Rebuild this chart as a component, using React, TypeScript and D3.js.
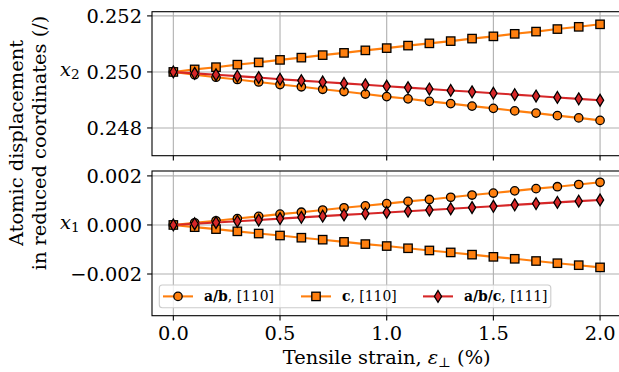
import React from "react";
import * as d3 from "d3";

const strain = [0, 0.1, 0.2, 0.3, 0.4, 0.5, 0.6, 0.7, 0.8, 0.9, 1.0, 1.1, 1.2, 1.3, 1.4, 1.5, 1.6, 1.7, 1.8, 1.9, 2.0];

// Top panel (x2)
const x2_ab110 = [0.25, 0.2499, 0.24981, 0.24973, 0.24964, 0.24955, 0.24947, 0.24938, 0.2493, 0.24921, 0.24912, 0.24904, 0.24895, 0.24887, 0.24878, 0.2487, 0.24861, 0.24853, 0.24844, 0.24836, 0.24827];
const x2_c110 = [0.25, 0.25009, 0.25017, 0.25026, 0.25034, 0.25043, 0.25051, 0.2506, 0.25068, 0.25077, 0.25085, 0.25094, 0.25102, 0.2511, 0.25119, 0.25127, 0.25136, 0.25144, 0.25153, 0.25161, 0.2517];
const x2_abc111 = [0.25, 0.24995, 0.2499, 0.24985, 0.2498, 0.24974, 0.24969, 0.24964, 0.24959, 0.24954, 0.24949, 0.24944, 0.24939, 0.24934, 0.24929, 0.24924, 0.24919, 0.24914, 0.24909, 0.24904, 0.24899];

// Bottom panel (x1)
const x1_ab110 = [0, 0.00009, 0.00017, 0.00026, 0.00035, 0.00044, 0.00052, 0.00061, 0.0007, 0.00078, 0.00087, 0.00096, 0.00104, 0.00113, 0.00122, 0.0013, 0.00139, 0.00148, 0.00156, 0.00165, 0.00174];
const x1_c110 = [0, -0.00009, -0.00017, -0.00026, -0.00035, -0.00043, -0.00052, -0.0006, -0.00069, -0.00078, -0.00086, -0.00095, -0.00104, -0.00112, -0.00121, -0.0013, -0.00138, -0.00147, -0.00156, -0.00164, -0.00173];
const x1_abc111 = [0, 0.00005, 0.0001, 0.00015, 0.0002, 0.00026, 0.00031, 0.00036, 0.00041, 0.00046, 0.00051, 0.00056, 0.00061, 0.00066, 0.00071, 0.00076, 0.00082, 0.00087, 0.00092, 0.00097, 0.00102];

const xTicks = [0, 0.5, 1.0, 1.5, 2.0];
const xTickLabels = ["0.0", "0.5", "1.0", "1.5", "2.0"];
const topTicks = [0.248, 0.25, 0.252];
const topTickLabels = ["0.248", "0.250", "0.252"];
const botTicks = [-0.002, 0, 0.002];
const botTickLabels = ["\u22120.002", "0.000", "0.002"];

const seriesNames = ["a/b", "c", "a/b/c"];
const seriesDirs = [", [110]", ", [110]", ", [111]"];
const seriesMarkers = ["circle", "square", "diamond"];
const seriesColors = ["#ff7f0e", "#ff7f0e", "#d62728"];

const FONT = "DejaVu Serif";
const L = 152, R = 621.4;
const T1 = 11.7, B1 = 155.7, T2 = 171, B2 = 315.7;

function Marker({ type, x, y, color }: { type: string; x: number; y: number; color: string }) {
  if (type === "circle") return <circle cx={x} cy={y} r={4.2} fill={color} stroke="#000" strokeWidth={1.3} />;
  if (type === "square") return <rect x={x - 4.2} y={y - 4.2} width={8.4} height={8.4} fill={color} stroke="#000" strokeWidth={1.3} />;
  const h = 5.9, w = 3.6;
  return <path d={`M${x},${y - h}L${x + w},${y}L${x},${y + h}L${x - w},${y}Z`} fill={color} stroke="#000" strokeWidth={1.3} />;
}

export default function App() {
  const x = d3.scaleLinear().domain([-0.1, 2.1]).range([L, R]);
  const yTop = d3.scaleLinear().domain([0.24701, 0.25215]).range([B1, T1]);
  const yBot = d3.scaleLinear().domain([-0.0037, 0.0022]).range([B2, T2]);

  const panels = [
    { y: yTop, top: T1, bottom: B1, ticks: topTicks, labels: topTickLabels, data: [x2_ab110, x2_c110, x2_abc111], sub: "2", clip: "c1" },
    { y: yBot, top: T2, bottom: B2, ticks: botTicks, labels: botTickLabels, data: [x1_ab110, x1_c110, x1_abc111], sub: "1", clip: "c2" },
  ];

  return (
    <svg width={619} height={372} style={{ position: "absolute", left: 0, top: 0, background: "#fff" }} fontFamily={FONT}>
      <rect x={0} y={0} width={619} height={372} fill="#fff" />
      <defs>
        {panels.map((p) => (
          <clipPath id={p.clip} key={p.clip}>
            <rect x={L} y={p.top} width={R - L} height={p.bottom - p.top} />
          </clipPath>
        ))}
      </defs>
      {panels.map((p, pi) => {
        const line = d3.line<number>().x((_, i) => x(strain[i])).y((v) => p.y(v));
        return (
          <g key={pi}>
            {/* grid */}
            <g stroke="#b0b0b0" strokeWidth={1.1}>
              {xTicks.map((t) => (
                <line key={"gx" + t} x1={x(t)} x2={x(t)} y1={p.top} y2={p.bottom} />
              ))}
              {p.ticks.map((t) => (
                <line key={"gy" + t} x1={L} x2={R} y1={p.y(t)} y2={p.y(t)} />
              ))}
            </g>
            {/* data */}
            <g clipPath={`url(#${p.clip})`}>
              {p.data.map((vals, si) => (
                <g key={si}>
                  <path d={line(vals) || ""} fill="none" stroke={seriesColors[si]} strokeWidth={2.1} />
                  {vals.map((v, i) => (
                    <Marker key={i} type={seriesMarkers[si]} x={x(strain[i])} y={p.y(v)} color={seriesColors[si]} />
                  ))}
                </g>
              ))}
            </g>
            {/* spines */}
            <rect x={L} y={p.top} width={R - L} height={p.bottom - p.top} fill="none" stroke="#000" strokeWidth={1.1} />
            {/* y ticks */}
            {p.ticks.map((t, i) => (
              <g key={"ty" + t}>
                <line x1={L - 4.9} x2={L} y1={p.y(t)} y2={p.y(t)} stroke="#000" strokeWidth={1.1} />
                <text x={L - 10} y={p.y(t)} dy="0.36em" textAnchor="end" fontSize={19.4} fill="#000">
                  {p.labels[i]}
                </text>
              </g>
            ))}
            {/* x ticks */}
            {xTicks.map((t) => (
              <line key={"tx" + t} x1={x(t)} x2={x(t)} y1={p.bottom} y2={p.bottom + 4.9} stroke="#000" strokeWidth={1.1} />
            ))}
            {/* panel variable label */}
            <text x={60} y={p.y(pi === 0 ? 0.25 : 0) + 4.5} fontSize={19.4} fill="#000">
              <tspan fontStyle="italic">x</tspan>
              <tspan fontSize={13.6} dy={2.8}>{p.sub}</tspan>
            </text>
          </g>
        );
      })}
      {/* x tick labels */}
      {xTicks.map((t, i) => (
        <text key={"xl" + t} x={x(t)} y={340.3} textAnchor="middle" fontSize={19.4} fill="#000">
          {xTickLabels[i]}
        </text>
      ))}
      {/* x label */}
      <text x={(L + R) / 2} y={364} textAnchor="middle" fontSize={19.4} fill="#000">
        Tensile strain, <tspan fontStyle="italic">ε</tspan>
        <tspan fontSize={13.6} dy={3}>⊥</tspan>
        <tspan dy={-3}> (%)</tspan>
      </text>
      {/* y label */}
      <g transform="translate(22.5,143) rotate(-90)">
        <text x={0} y={0} textAnchor="middle" fontSize={19.4} fill="#000">Atomic displacement</text>
        <text x={0} y={23.5} textAnchor="middle" fontSize={19.4} fill="#000">in reduced coordinates (/)</text>
      </g>
      {/* legend */}
      <g>
        <rect x={159.3} y={285} width={391.5} height={22.7} rx={3} fill="#fff" fillOpacity={0.8} stroke="#cccccc" strokeWidth={1.1} />
        {[163, 301, 423].map((lx, i) => (
          <g key={i}>
            <line x1={lx} x2={lx + 30} y1={296.4} y2={296.4} stroke={seriesColors[i]} strokeWidth={2.1} />
            <Marker type={seriesMarkers[i]} x={lx + 15} y={296.4} color={seriesColors[i]} />
            <text x={lx + 41} y={296.4} dy="0.36em" fontSize={13.9} fill="#000">
              <tspan fontWeight="bold">{seriesNames[i]}</tspan>
              {seriesDirs[i]}
            </text>
          </g>
        ))}
      </g>
    </svg>
  );
}
